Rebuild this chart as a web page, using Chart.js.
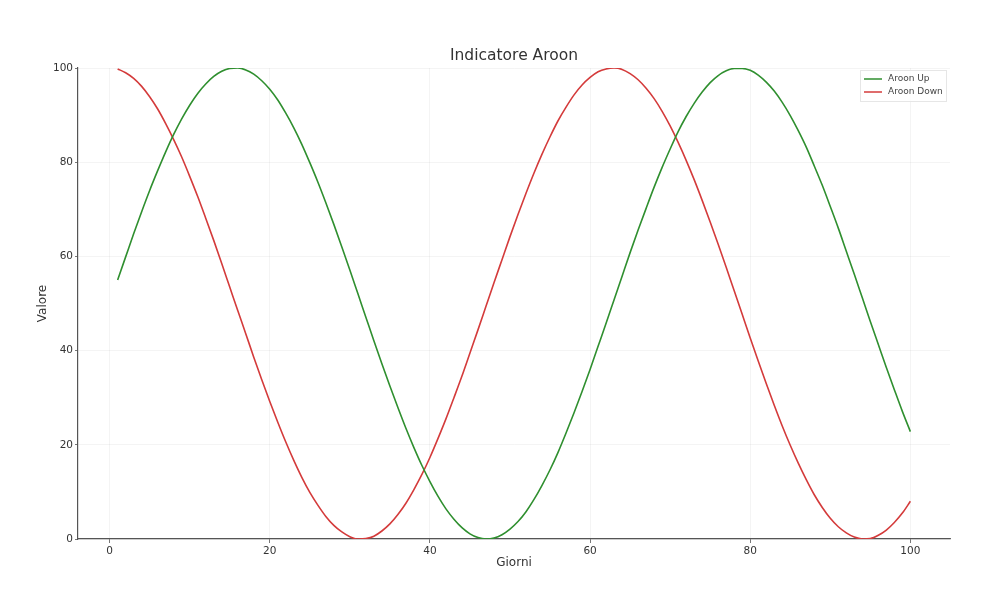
<!DOCTYPE html>
<html>
<head>
<meta charset="utf-8">
<script src="https://cdn.jsdelivr.net/npm/chart.js@4"></script>
<style>
  html, body { margin: 0; padding: 0; background: #fff; }
  #wrap { width: 1000px; height: 600px; }
</style>
</head>
<body>
<div id="wrap"><canvas id="chart" width="1000" height="600"></canvas></div>
<script>
// giorni 1..100
const giorni = [];
for (let i = 1; i <= 100; i++) giorni.push(i);

const aroonUp = [
  55.0, 59.9, 64.8, 69.5, 74.0, 78.2, 82.2, 85.9, 89.2, 92.1,
  94.6, 96.6, 98.2, 99.3, 99.9, 100.0, 99.6, 98.7, 97.3, 95.5,
  93.2, 90.4, 87.3, 83.8, 79.9, 75.8, 71.4, 66.8, 62.0, 57.1,
  52.1, 47.1, 42.1, 37.2, 32.5, 27.9, 23.5, 19.4, 15.6, 12.2,
  9.1, 6.4, 4.2, 2.4, 1.1, 0.3, 0.0, 0.2, 0.9, 2.1,
  3.7, 5.8, 8.4, 11.4, 14.7, 18.4, 22.5, 26.8, 31.3, 36.0,
  40.9, 45.8, 50.8, 55.8, 60.8, 65.6, 70.2, 74.7, 78.9, 82.8,
  86.5, 89.7, 92.5, 94.9, 96.9, 98.4, 99.4, 99.9, 99.9, 99.5,
  98.5, 97.0, 95.1, 92.7, 89.9, 86.7, 83.2, 79.2, 75.1, 70.6,
  66.0, 61.1, 56.2, 51.2, 46.2, 41.3, 36.4, 31.7, 27.1, 22.8
];

const aroonDown = [
  99.8, 99.0, 97.8, 96.1, 93.9, 91.3, 88.2, 84.8, 81.1, 77.0,
  72.7, 68.1, 63.4, 58.5, 53.5, 48.5, 43.6, 38.6, 33.8, 29.2,
  24.8, 20.6, 16.7, 13.1, 9.9, 7.2, 4.8, 2.9, 1.5, 0.5,
  0.0, 0.1, 0.6, 1.7, 3.2, 5.2, 7.6, 10.5, 13.7, 17.3,
  21.3, 25.5, 30.0, 34.6, 39.5, 44.4, 49.4, 54.4, 59.3, 64.2,
  68.9, 73.4, 77.7, 81.7, 85.4, 88.8, 91.7, 94.3, 96.4, 98.0,
  99.2, 99.8, 100.0, 99.7, 98.8, 97.5, 95.7, 93.5, 90.8, 87.7,
  84.2, 80.4, 76.3, 71.9, 67.3, 62.6, 57.7, 52.7, 47.7, 42.7,
  37.8, 33.0, 28.4, 24.0, 19.9, 16.1, 12.6, 9.4, 6.7, 4.4,
  2.6, 1.3, 0.4, 0.0, 0.1, 0.8, 1.9, 3.5, 5.5, 8.0
];

const xTicks = [0, 20, 40, 60, 80, 100];
const yTicks = [0, 20, 40, 60, 80, 100];

const FONT = "'DejaVu Sans', sans-serif";
const GREEN = '#2f8f2f';
const RED = '#d43b3b';
const TITLE = 'Indicatore Aroon';

const toPoints = (ys) => giorni.map((g, i) => ({ x: g, y: ys[i] }));

// titolo centrato sull'area del grafico + legenda in alto a destra
const decorations = {
  id: 'decorations',
  afterDraw(chart) {
    const { ctx, chartArea } = chart;
    ctx.save();
    ctx.font = '15.5px ' + FONT;
    ctx.fillStyle = '#333';
    ctx.textAlign = 'center';
    ctx.textBaseline = 'middle';
    ctx.fillText(TITLE, (chartArea.left + chartArea.right) / 2, 56);

    const items = chart.data.datasets;
    const w = 86, h = 31;
    const x = chartArea.right - w - 4, y = chartArea.top + 2;
    ctx.textAlign = 'left';
    ctx.fillStyle = 'rgba(255,255,255,0.8)';
    ctx.strokeStyle = '#e6e6e6';
    ctx.lineWidth = 1;
    ctx.fillRect(x, y, w, h);
    ctx.strokeRect(x + 0.5, y + 0.5, w, h);
    ctx.font = '9px ' + FONT;
    items.forEach((ds, i) => {
      const ly = y + 9 + i * 13;
      ctx.strokeStyle = ds.borderColor;
      ctx.lineWidth = 1.5;
      ctx.beginPath();
      ctx.moveTo(x + 4, ly);
      ctx.lineTo(x + 22, ly);
      ctx.stroke();
      ctx.fillStyle = '#444';
      ctx.fillText(ds.label, x + 28, ly);
    });
    ctx.restore();
  }
};

new Chart(document.getElementById('chart'), {
  type: 'line',
  data: {
    datasets: [
      { label: 'Aroon Up', data: toPoints(aroonUp), borderColor: GREEN, borderWidth: 1.6, pointRadius: 0, cubicInterpolationMode: 'monotone' },
      { label: 'Aroon Down', data: toPoints(aroonDown), borderColor: RED, borderWidth: 1.6, pointRadius: 0, cubicInterpolationMode: 'monotone' }
    ]
  },
  options: {
    responsive: false,
    animation: false,
    layout: { padding: { left: 36, right: 50, top: 68, bottom: 30 } },
    plugins: {
      legend: { display: false },
      tooltip: { enabled: false },
      title: { display: false }
    },
    scales: {
      x: {
        type: 'linear',
        min: -3.95,
        max: 104.95,
        afterBuildTicks: (s) => { s.ticks = xTicks.map(v => ({ value: v })); },
        afterFit: (s) => { s.height = 31; },
        grid: { color: 'rgba(0,0,0,0.06)', drawTicks: true, tickLength: 4, tickColor: '#555', lineWidth: 0.8 },
        border: { display: true, color: '#555', width: 1.2 },
        ticks: { color: '#333', font: { family: FONT, size: 10.5 }, padding: 2, maxRotation: 0 },
        title: { display: true, text: 'Giorni', color: '#333', font: { family: FONT, size: 12 }, padding: { top: 0, bottom: 0 } }
      },
      y: {
        min: 0,
        max: 100,
        afterBuildTicks: (s) => { s.ticks = yTicks.map(v => ({ value: v })); },
        afterFit: (s) => { s.width = 42; },
        grid: { color: 'rgba(0,0,0,0.06)', drawTicks: true, tickLength: 3, tickColor: '#555', lineWidth: 0.8 },
        border: { display: true, color: '#555', width: 1.2 },
        ticks: { color: '#333', font: { family: FONT, size: 10.5 }, padding: 2 },
        title: { display: true, text: 'Valore', color: '#333', font: { family: FONT, size: 12 }, padding: { top: 0, bottom: 0 } }
      }
    }
  },
  plugins: [decorations]
});
</script>
</body>
</html>
